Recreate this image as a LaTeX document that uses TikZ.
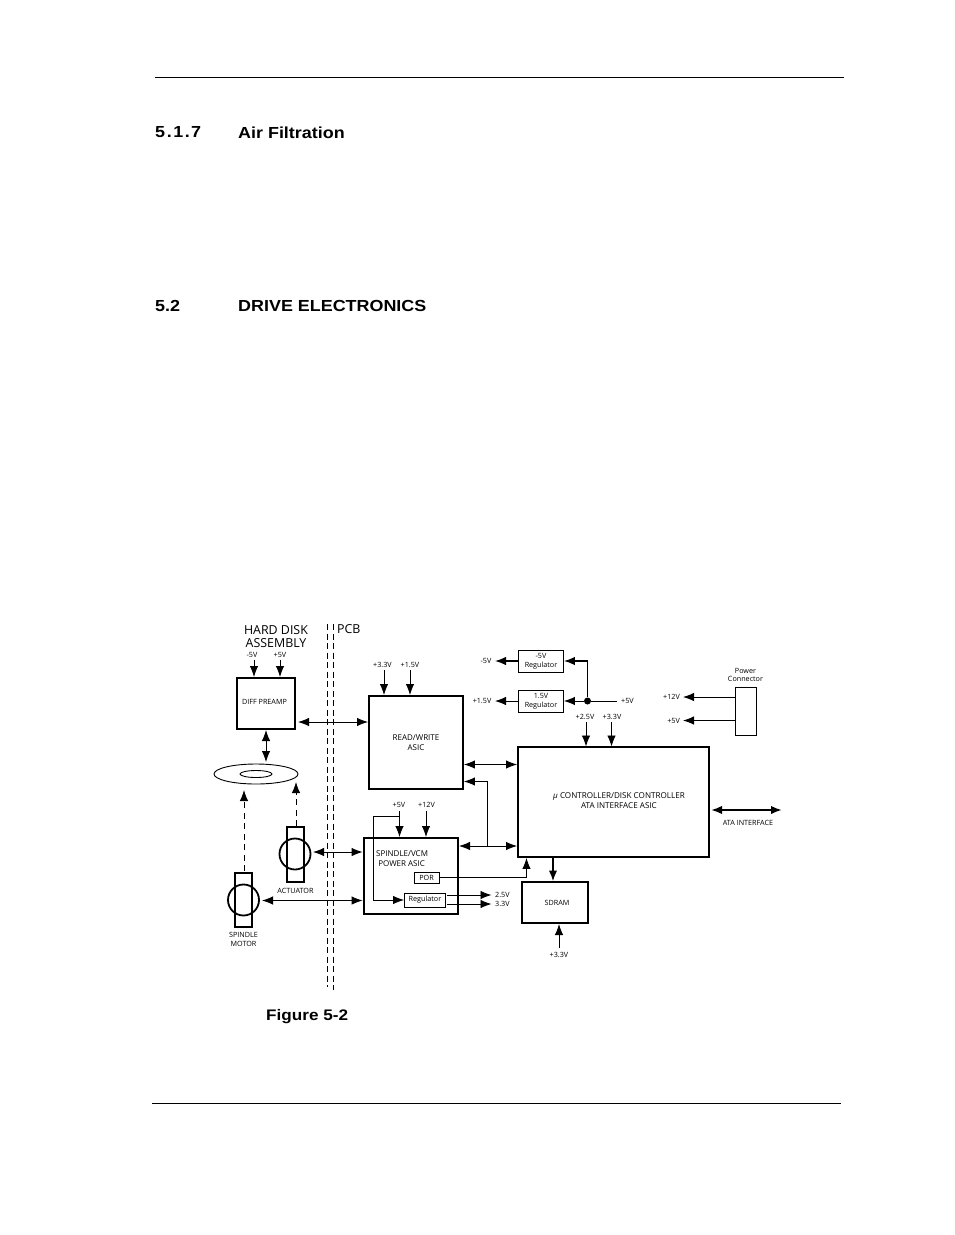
\documentclass[tikz,border=0pt]{standalone}
\usepackage{fontspec}
\setmainfont{Open Sans}
\newfontfamily\headfont[FakeStretch=1.12]{Liberation Sans}
\usetikzlibrary{arrows.meta,shapes.geometric}
\tikzset{
  x=1pt,y=-1pt,
  tinytext/.style={inner sep=0pt,font=\fontsize{7.2}{8.8}\selectfont,align=center},
  labeltext/.style={inner sep=0pt,font=\fontsize{8}{10}\selectfont,align=center},
  bigtext/.style={inner sep=0pt,font=\fontsize{12.4}{12.6}\selectfont,align=center},
  head/.style={inner sep=0pt,anchor=west,font=\headfont\bfseries\fontsize{16}{18}\selectfont},
  heavybox/.style={draw,line width=1.9pt,inner sep=0pt,align=center},
  heavierbox/.style={draw,line width=2.8pt,inner sep=0pt,align=center},
  lightbox/.style={draw,line width=.9pt,inner sep=0pt,align=center},
  link/.style={line width=.9pt},
  thicklink/.style={line width=2pt},
  tip/.style={-{Latex[length=11pt,width=8.5pt]}},
  tips/.style={{Latex[length=11pt,width=8.5pt]}-{Latex[length=11pt,width=8.5pt]}},
  divider/.style={line width=.8pt,dash pattern=on 6pt off 3.5pt},
  motion/.style={line width=.9pt,dash pattern=on 6pt off 4.5pt,-{Latex[length=11pt,width=8.5pt]}},
}
\begin{document}
\begin{tikzpicture}
\useasboundingbox (0,0) rectangle (954,1235);
% page furniture
\coordinate (ta) at (155,77.5); \coordinate (tb) at (844,77.5);
\coordinate (ba) at (152,1103); \coordinate (bb) at (841,1103);
\draw[line width=.8pt] (ta) -- (tb);
\draw[line width=.8pt] (ba) -- (bb);
\node[head] (h1) at (155,132.5) {5\kern1.6pt.\kern1.6pt1\kern1.6pt.\kern1.2pt7};
\node[head] (h2) at (238,132.5) {Air Filtration};
\node[head] (h3) at (155,305.5) {5.2};
\node[head] (h4) at (238,305.5) {DRIVE ELECTRONICS};
\node[head,font=\headfont\bfseries\fontsize{15.3}{17}\selectfont] (fig) at (266,1017) {Figure 5-2};
% dividers and top labels
\coordinate (d1a) at (327.5,624); \coordinate (d1b) at (327.5,987);
\coordinate (d2a) at (333.5,624); \coordinate (d2b) at (333.5,990);
\draw[divider] (d1a) -- (d1b);
\draw[divider] (d2a) -- (d2b);
\node[bigtext] (hda) at (276,636.5) {HARD DISK\\ASSEMBLY};
\node[bigtext,anchor=west] (pcb) at (337,629.5) {PCB};
% boxes
\node[heavybox,minimum width=58pt,minimum height=51pt] (dp) at (266,703.5) {};
\node[tinytext] (dpt) at (264.5,702) {DIFF PREAMP};
\node[heavybox,minimum width=94pt,minimum height=93pt] (rw) at (416,742.5) {};
\node[labeltext] (rwt) at (416,742.5) {READ/WRITE\\ASIC};
\node[heavybox,minimum width=191pt,minimum height=110pt] (uc) at (613.5,802) {};
\node[labeltext,font=\fontsize{8.1}{10}\selectfont] (uct) at (619,801) {\textit{μ} CONTROLLER/DISK CONTROLLER\\ATA INTERFACE ASIC};
\node[heavierbox,minimum width=94pt,minimum height=76pt] (sp) at (411,876) {};
\node[labeltext,anchor=west,align=left] (spt) at (376,859) {SPINDLE/VCM\\\ POWER ASIC};
\node[lightbox,minimum width=25pt,minimum height=11pt,fill=white,tinytext,draw] (por) at (426.5,877.5) {POR};
\node[lightbox,minimum width=41pt,minimum height=14pt,fill=white,tinytext,draw] (reg) at (425,900) {Regulator};
\node[heavybox,minimum width=66pt,minimum height=41pt] (sd) at (555,902.5) {};
\node[tinytext] (sdt) at (557,903) {SDRAM};
\node[lightbox,minimum width=45pt,minimum height=22pt,tinytext,draw] (rn) at (541,661) {-5V\\Regulator};
\node[lightbox,minimum width=45pt,minimum height=22pt,tinytext,draw] (r1) at (541,701) {1.5V\\Regulator};
\node[lightbox,minimum width=21pt,minimum height=48pt] (pc) at (745.5,711) {};
\node[tinytext] (pct) at (745.5,675) {Power\\Connector};
% disk
\node[draw,line width=.9pt,ellipse,minimum width=84pt,minimum height=20pt,inner sep=0pt] (disk) at (256,774) {};
\node[draw,line width=.9pt,ellipse,minimum width=32pt,minimum height=7pt,inner sep=0pt] (hub) at (256,774) {};
% motors
\node[draw,line width=1.8pt,minimum width=17pt,minimum height=55pt,inner sep=0pt] (actr) at (295.5,854.5) {};
\node[draw,line width=1.8pt,circle,minimum size=31pt,inner sep=0pt] (actc) at (295,854) {};
\node[tinytext] (actt) at (295.5,890.5) {ACTUATOR};
\node[draw,line width=1.8pt,minimum width=17pt,minimum height=54pt,inner sep=0pt] (spr) at (243.5,900) {};
\node[draw,line width=1.8pt,circle,minimum size=31pt,inner sep=0pt] (spc) at (243.5,900) {};
\node[tinytext] (sptt) at (243.5,939.5) {SPINDLE\\MOTOR};
% voltage labels
\node[tinytext] (l1) at (252,655) {-5V};
\node[tinytext] (l2) at (280,655) {+5V};
\node[tinytext] (l3) at (382.5,665) {+3.3V};
\node[tinytext] (l4) at (410,665) {+1.5V};
\node[tinytext] (l5) at (399,804.5) {+5V};
\node[tinytext] (l6) at (426.5,804.5) {+12V};
\node[tinytext,anchor=east] (l7) at (491.5,661) {-5V};
\node[tinytext,anchor=east] (l8) at (491.5,701) {+1.5V};
\node[tinytext,anchor=west] (l9) at (621,701) {+5V};
\node[tinytext] (l10) at (585,717) {+2.5V};
\node[tinytext] (l11) at (612,717) {+3.3V};
\node[tinytext,anchor=east] (l12) at (680,696.5) {+12V};
\node[tinytext,anchor=east] (l13) at (680,720.5) {+5V};
\node[tinytext,anchor=west] (l14) at (495,895) {2.5V};
\node[tinytext,anchor=west] (l15) at (495,904) {3.3V};
\node[tinytext] (l16) at (559,955) {+3.3V};
\node[tinytext] (l17) at (748,822.5) {ATA INTERFACE};
% connectors
\draw[link,tip] (254,660) -- (254,677);
\draw[link,tip] (280,660) -- (280,677);
\draw[link,tip] (384,670) -- (384,695);
\draw[link,tip] (410,670) -- (410,695);
\draw[link,tips] (298,722) -- (rw.west|-0,722);
\draw[link,tips] (266,730) -- (266,762);
\draw[motion] (296,826) -- (296,782);
\draw[motion] (244,871) -- (244,790);
\draw[link,tips] (313,852) -- (sp.west|-0,852);
\draw[link,tips] (262,900.5) -- (sp.west|-0,900.5);
\draw[link,tip] (399.5,811) -- (399.5,837);
\draw[link,tip] (426,811) -- (426,837);
\coordinate (cna) at (399.5,816);
\coordinate (cnb) at (373.5,816);
\coordinate (cnc) at (373.5,900);
\draw[link,tip] (cna) -- (cnb) -- (cnc) -- (reg.west);
\coordinate (porc) at (526.5,877.5);
\draw[link,tip] (por.east) -- (porc) -- (uc.south-|porc);
\draw[link,tip] (447,895) -- (491.5,895);
\draw[link,tip] (447,904) -- (491.5,904);
\draw[link,tips] (rw.east|-0,764.5) -- (uc.west|-0,764.5);
\draw[link,tips] (459,846) -- (uc.west|-0,846);
\coordinate (jt) at (487.5,846);
\coordinate (jm) at (487.5,781.5);
\draw[link,tip] (jt) -- (jm) -- (rw.east|-jm);
\draw[thicklink,tip] (553,857) -- (553,881.5);
\draw[link,tip] (559,948) -- (559,924);
\draw[thicklink,tips] (711,810) -- (782,810);
\draw[link,tip] (586,722) -- (586,746.5);
\draw[link,tip] (611.5,722) -- (611.5,746.5);
% power rail
\node[circle,fill=black,minimum size=7pt,inner sep=0pt] (dot) at (587.5,701) {};
\coordinate (fiveend) at (617,701);
\coordinate (up) at (587.5,661);
\draw[link] (fiveend) -- (dot);
\draw[link,tip] (dot) -- (r1.east);
\draw[line width=1.5pt,tip] (dot) -- (up) -- (rn.east);
\draw[line width=1.5pt,tip] (rn.west) -- (495,661);
\draw[link,tip] (r1.west) -- (495,701);
\draw[link,tip] (pc.west|-0,697) -- (683,697);
\draw[link,tip] (pc.west|-0,720.5) -- (683,720.5);
\end{tikzpicture}
\end{document}
